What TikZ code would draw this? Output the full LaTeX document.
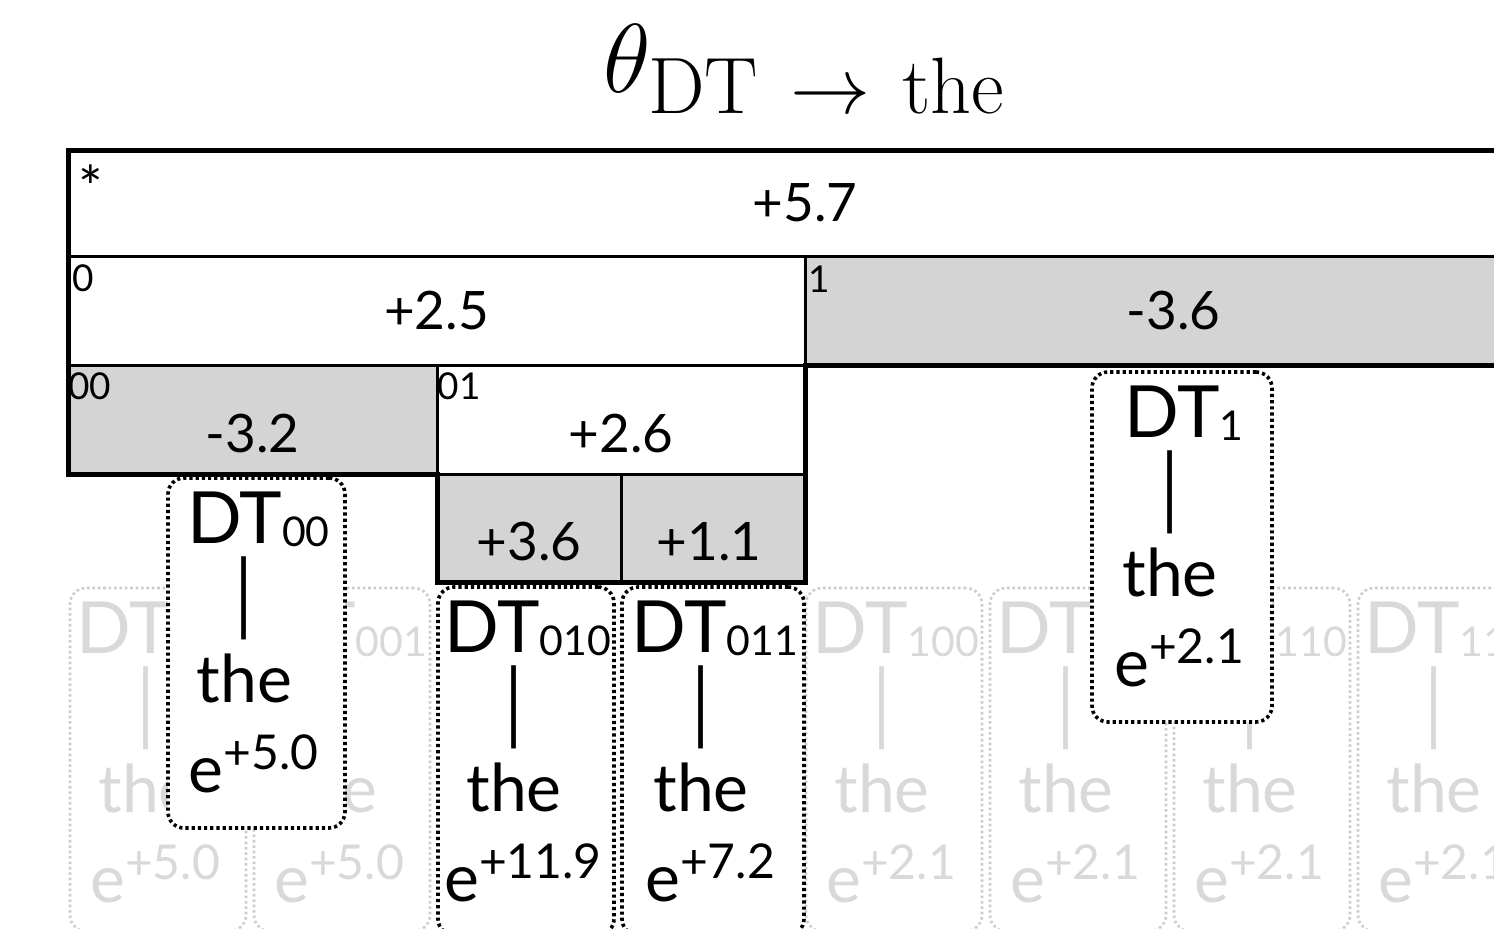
\RequirePackage{fix-cm}
\documentclass[tikz,border=0pt]{standalone}
\usepackage{fontspec}
\usepackage{graphicx}
\newfontfamily\gill{Lato}
\usetikzlibrary{calc,fit}

\definecolor{cellgrey}{gray}{0.83}
\definecolor{ghost}{gray}{0.85}
\definecolor{ghostline}{gray}{0.80}

\tikzset{
  cell/.style={draw=black, line width=1.5pt, inner sep=0pt, outer sep=0pt, fill=white},
  greycell/.style={cell, fill=cellgrey},
  outline/.style={draw=black, line width=2.5pt, line join=miter},
  cellname/.style={font=\gill\fontsize{18.5pt}{20pt}\selectfont, inner sep=0pt},
  cellval/.style={font=\gill\fontsize{26.5pt}{30pt}\selectfont, inner sep=0pt},
  leafbox/.style={draw=black, line width=1.8pt, dash pattern=on 1.6pt off 1.5pt,
                  rounded corners=8pt, fill=white, inner sep=0pt, outer sep=0pt},
  ghostbox/.style={draw=ghostline, line width=1.3pt, dash pattern=on 1.3pt off 1.4pt,
                   rounded corners=8pt, inner sep=0pt, outer sep=0pt},
  dtline/.style={font=\gill\fontsize{36pt}{40pt}\selectfont, inner sep=0pt, anchor=base},
  barline/.style={font=\gill\fontsize{34pt}{38pt}\selectfont, inner sep=0pt},
  wordline/.style={font=\gill\fontsize{33pt}{36pt}\selectfont, inner sep=0pt, anchor=base},
}

% text stack inside a leaf box: DT_sub, bar, word, weight
\newcommand\leafinside[4]{%
  \node[dtline, text=#4] (#1-dt) at ($(#1.north)+(2,65)$)
    {DT{\fontsize{20.5pt}{22pt}\selectfont\raisebox{-1.5pt}{#2}}};
  \node[barline, text=#4] (#1-bar) at ($(#1.north)+(-12,120)$) {\scalebox{1}[1.3]{|}};
  \node[wordline, text=#4] (#1-word) at ($(#1.north)+(-12,224)$) {the};
  \node[wordline, text=#4] (#1-exp) at ($(#1.north)+(-3,314)$)
    {e\raisebox{11.5pt}{\fontsize{24pt}{26pt}\selectfont +#3}};
}

\begin{document}
\begin{tikzpicture}[x=0.5pt, y=-0.5pt]
\useasboundingbox (0,0) rectangle (1494,928);
\fill[white] (0,0) rectangle (1494,928);
\clip (0,0) rectangle (1494,928);

% title
\node[anchor=base west, inner sep=0pt] (title) at (603,92)
  {\fontsize{49pt}{54pt}\selectfont
   $\theta_{\mbox{\fontsize{40pt}{44pt}\selectfont DT\hspace{16pt}$\rightarrow$\hspace{16pt}the}}$};

% tree of cells
\node[cell,     fit={(68,150) (1542,256)}] (root) {};
\node[cell,     fit={(68,256) (805,365)}]  (n0)   {};
\node[greycell, fit={(805,256) (1542,365)}] (n1)  {};
\node[greycell, fit={(68,365) (437,474)}]  (n00)  {};
\node[cell,     fit={(437,365) (805,474)}] (n01)  {};
\node[greycell, fit={(437,474) (621,582)}] (n010) {};
\node[greycell, fit={(621,474) (805,582)}] (n011) {};

\draw[outline] (root.north west) -- (root.north east) -- (n1.south east)
  -- (n1.south west) -- (n011.south east) -- (n010.south west)
  -- (n00.south east) -- (n00.south west) -- cycle;

% cell names
\node[cellname, anchor=base] (root-name) at ($(root.north west)+(23,58)$)
  {\gill\fontsize{29pt}{31pt}\selectfont *};
\node[cellname] (n0-name)  at ($(n0.north west)+(15,22)$)  {0};
\node[cellname] (n1-name)  at ($(n1.north west)+(14,23)$)  {1};
\node[cellname] (n00-name) at ($(n00.north west)+(22,21)$) {00};
\node[cellname] (n01-name) at ($(n01.north west)+(22,21)$) {01};

% cell weights
\node[cellval] (root-val) at (root.center) {+5.7};
\node[cellval] (n0-val)   at (n0.center)   {+2.5};
\node[cellval] (n1-val)   at (n1.center)   {-3.6};
\node[cellval] (n00-val)  at ($(n00.center)+(0,14)$)  {-3.2};
\node[cellval] (n01-val)  at ($(n01.center)+(0,14)$)  {+2.6};
\node[cellval] (n010-val) at ($(n010.center)+(0,14)$) {+3.6};
\node[cellval] (n011-val) at ($(n011.center)+(-4,14)$) {+1.1};

% faded leaves
\node[ghostbox, fit={(70,588) (246,931)}]    (g000) {};
\node[ghostbox, fit={(254,588) (430,931)}]   (g001) {};
\node[ghostbox, fit={(806,588) (982,931)}]   (g100) {};
\node[ghostbox, fit={(990,588) (1166,931)}]  (g101) {};
\node[ghostbox, fit={(1174,588) (1350,931)}] (g110) {};
\node[ghostbox, fit={(1358,588) (1534,931)}] (g111) {};
\leafinside{g000}{000}{5.0}{ghost}
\leafinside{g001}{001}{5.0}{ghost}
\leafinside{g100}{100}{2.1}{ghost}
\leafinside{g101}{101}{2.1}{ghost}
\leafinside{g110}{110}{2.1}{ghost}
\leafinside{g111}{111}{2.1}{ghost}

% highlighted leaves
\node[leafbox, fit={(438,587) (614,935)}]   (b010) {};
\node[leafbox, fit={(622,587) (804,935)}]   (b011) {};
\node[leafbox, fit={(168,478) (345,828)}]   (b00)  {};
\node[leafbox, fit={(1092,372) (1272,722)}] (b1)   {};
\leafinside{b010}{010}{11.9}{black}
\leafinside{b011}{011}{7.2}{black}
\leafinside{b00}{00}{5.0}{black}
\leafinside{b1}{1}{2.1}{black}
\end{tikzpicture}
\end{document}
